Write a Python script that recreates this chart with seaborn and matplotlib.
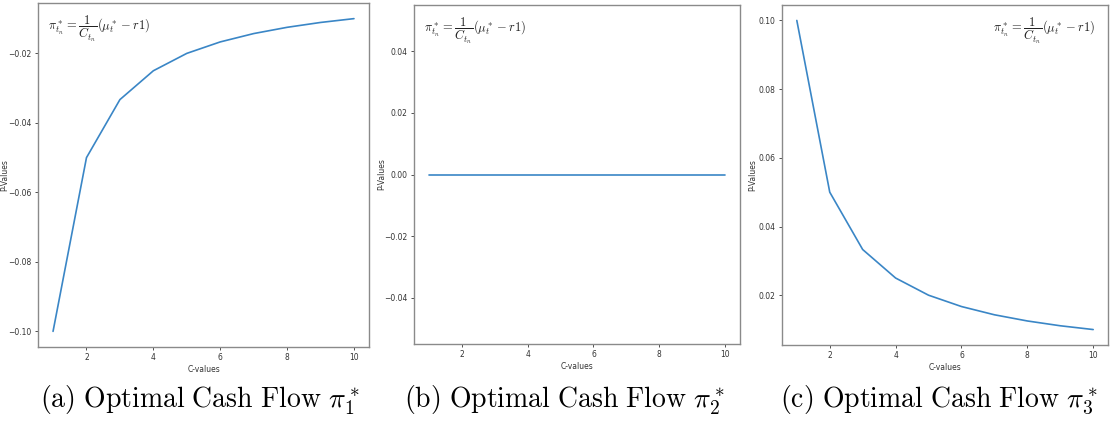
import matplotlib
matplotlib.use("Agg")
import matplotlib.pyplot as plt
import seaborn as sns

# C values shared by all three panels
c_values = [1, 2, 3, 4, 5, 6, 7, 8, 9, 10]
pi_1 = [-0.1, -0.05, -0.0333, -0.025, -0.02, -0.0167, -0.0143, -0.0125, -0.0111, -0.01]
pi_2 = [0.0, 0.0, 0.0, 0.0, 0.0, 0.0, 0.0, 0.0, 0.0, 0.0]
pi_3 = [0.1, 0.05, 0.0333, 0.025, 0.02, 0.0167, 0.0143, 0.0125, 0.0111, 0.01]

captions = [r"$\mathrm{(a)\ Optimal\ Cash\ Flow}\ \pi_1^*$",
            r"$\mathrm{(b)\ Optimal\ Cash\ Flow}\ \pi_2^*$",
            r"$\mathrm{(c)\ Optimal\ Cash\ Flow}\ \pi_3^*$"]
formula = r"$\pi^*_{t_n} = \dfrac{1}{C_{t_n}}(\mu^*_t - r\mathbf{1})$"

sns.set_theme(style="white")
plt.rcParams["mathtext.fontset"] = "cm"
plt.rcParams["font.family"] = ["DejaVu Sans"]

W, H = 1110, 425
fig = plt.figure(figsize=(W / 100, H / 100), dpi=100)

# pixel boxes: left, top, right, bottom
boxes = [(38, 3, 369, 347), (414, 5, 740, 344), (782, 5, 1108, 345)]
series = [pi_1, pi_2, pi_3]
caption_x = [200, 565, 939]
ylabel_x = [9, 386, 757]
formula_pos = [(0.03, 0.97, "left"), (0.03, 0.97, "left"), (0.96, 0.97, "right")]

for i, (box, vals) in enumerate(zip(boxes, series)):
    l, t, r, b = box
    ax = fig.add_axes([l / W, 1 - b / H, (r - l) / W, (b - t) / H])
    sns.lineplot(x=c_values, y=vals, ax=ax, color="#3a86c6", linewidth=1.2)
    ax.set_xticks([2, 4, 6, 8, 10])
    ax.set_xlabel("C-values", fontsize=5.5, color="#333333", labelpad=2)
    ax.set_ylabel("P-Values", fontsize=5.5, color="#333333")
    ax.yaxis.set_label_coords((ylabel_x[i] - l) / (r - l), 0.5)
    ax.tick_params(axis="both", labelsize=5.5, colors="#333333", length=2.5,
                   width=0.6, direction="out", left=True, bottom=True, pad=2)
    for sp in ax.spines.values():
        sp.set_color("#8a8a8a")
        sp.set_linewidth(1.0)
    fx, fy, ha = formula_pos[i]
    ax.text(fx, fy, formula, transform=ax.transAxes, ha=ha, va="top",
            fontsize=9, color="#222222")
    fig.text(caption_x[i] / W, 1 - 400 / H, captions[i], ha="center",
             va="center", fontsize=20, color="black")

fig.savefig("out.png", dpi=100)
plt.close(fig)
